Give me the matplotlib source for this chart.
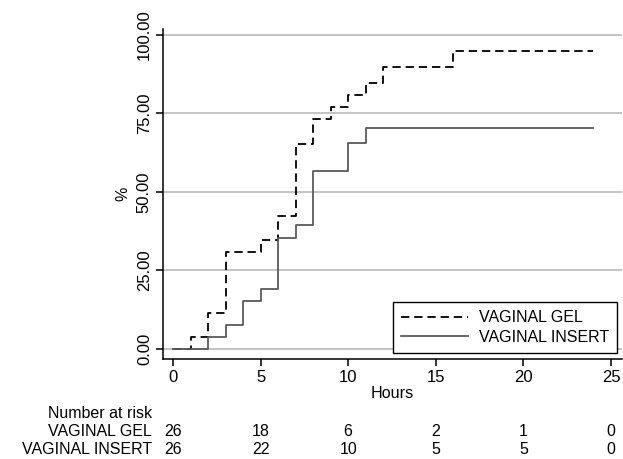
import matplotlib
matplotlib.use("Agg")
import matplotlib.pyplot as plt
import matplotlib.transforms as mtransforms

# Data
gel_times = [0, 1, 2, 3, 5, 6, 7, 8, 9, 10, 11, 12, 16, 24]
gel_pct = [0, 3.85, 11.54, 30.77, 34.62, 42.31, 65.38, 73.08, 76.92, 80.77, 84.62, 89.74, 94.87, 94.87]
insert_times = [0, 2, 3, 4, 5, 6, 7, 8, 10, 11, 24]
insert_pct = [0, 3.85, 7.69, 15.38, 19.23, 35.2, 39.6, 56.8, 65.5, 70.4, 70.4]
risk_times = [0, 5, 10, 15, 20, 25]
risk_gel = [26, 18, 6, 2, 1, 0]
risk_insert = [26, 22, 10, 5, 5, 0]
y_ticks = [0, 25, 50, 75, 100]
x_ticks = [0, 5, 10, 15, 20, 25]

plt.rcParams['font.family'] = ['Liberation Sans', 'DejaVu Sans']
plt.rcParams['lines.scale_dashes'] = False

W, H = 623, 459
fig = plt.figure(figsize=(W / 100, H / 100), dpi=100)
ax = fig.add_axes([163 / W, (H - 359) / H, (622 - 163) / W, (359 - 29) / H])

ax.set_xlim(-0.57, 25.63)
ax.set_ylim(-3.2, 101.9)

for yv in y_ticks:
    ax.axhline(yv, color='#b4b4b4', lw=1.1, zorder=1)

ax.step(gel_times, gel_pct, where='post', color='black', lw=1.3,
        dashes=(6, 3.5), label='VAGINAL GEL', zorder=3)
ax.step(insert_times, insert_pct, where='post', color='#5a5a5a', lw=1.3,
        label='VAGINAL INSERT', zorder=3)

for s in ['top', 'right']:
    ax.spines[s].set_visible(False)
for s in ['left', 'bottom']:
    ax.spines[s].set_linewidth(1.1)

ax.set_xticks(x_ticks)
ax.set_yticks(y_ticks)
ax.set_yticklabels([f"{v:.2f}" for v in y_ticks], rotation=90, va='center')
ax.tick_params(axis='both', direction='out', length=5, width=1.1, labelsize=12, pad=3)

ax.set_xlabel('Hours', fontsize=11.6, labelpad=1)
ax.set_ylabel('%', fontsize=11.6, labelpad=5)

leg = ax.legend(loc='lower right', bbox_to_anchor=(0.989, 0.018), fontsize=11.5,
                frameon=True, fancybox=False, edgecolor='black', framealpha=1,
                handlelength=4.2, handletextpad=0.7, borderpad=0.5, labelspacing=0.3,
                borderaxespad=0)
leg.get_frame().set_linewidth(1.0)

# Number at risk table
trans = mtransforms.blended_transform_factory(ax.transData, fig.transFigure)
fs = 11.5
fig.text(152 / W, 1 - 413 / H, 'Number at risk', ha='right', va='center', fontsize=fs)
fig.text(152 / W, 1 - 432 / H, 'VAGINAL GEL', ha='right', va='center', fontsize=fs)
fig.text(152 / W, 1 - 450 / H, 'VAGINAL INSERT', ha='right', va='center', fontsize=fs)
for t, g, i in zip(risk_times, risk_gel, risk_insert):
    ax.text(t, 1 - 432 / H, str(g), transform=trans, ha='center', va='center', fontsize=fs, clip_on=False)
    ax.text(t, 1 - 450 / H, str(i), transform=trans, ha='center', va='center', fontsize=fs, clip_on=False)

fig.savefig('out.png', dpi=100)
